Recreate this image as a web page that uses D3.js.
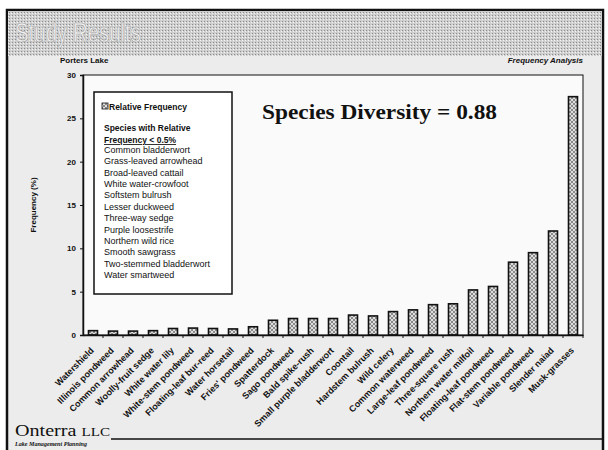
<!DOCTYPE html>
<html><head><meta charset="utf-8">
<script src="https://cdn.jsdelivr.net/npm/d3@7"></script>
<style>body{margin:0;background:#fff}svg{display:block}</style>
</head><body>
<script>
const categories = ["Watershield","Illinois pondweed","Common arrowhead","Woolly-fruit sedge","White water lily","White-stem pondweed","Floating-leaf bur-reed","Water horsetail","Fries' pondweed","Spatterdock","Sago pondweed","Bald spike-rush","Small purple bladderwort","Coontail","Hardstem bulrush","Wild celery","Common waterweed","Large-leaf pondweed","Three-square rush","Northern water milfoil","Floating-leaf pondweed","Flat-stem pondweed","Variable pondweed","Slender naiad","Musk-grasses"];
const relativeFrequency = [0.5,0.45,0.45,0.5,0.75,0.8,0.75,0.7,0.95,1.7,1.9,1.9,1.9,2.3,2.2,2.7,2.9,3.5,3.6,5.2,5.6,8.4,9.5,12.0,27.5];
const yTicks = [0,5,10,15,20,25,30];
const rareSpecies = ["Common bladderwort","Grass-leaved arrowhead","Broad-leaved cattail","White water-crowfoot","Softstem bulrush","Lesser duckweed","Three-way sedge","Purple loosestrife","Northern wild rice","Smooth sawgrass","Two-stemmed bladderwort","Water smartweed"];

const W = 608, H = 450;
const svg = d3.select("body").append("svg").attr("width", W).attr("height", H);
const defs = svg.append("defs");
const pat = defs.append("pattern").attr("id","hatch").attr("patternUnits","userSpaceOnUse").attr("width",4).attr("height",4);
pat.append("rect").attr("width",4).attr("height",4).attr("fill","#8a8a8a");
pat.append("path").attr("d","M0,0 L2,2 L4,0 M0,4 L2,2 L4,4").attr("stroke","#e8e8e8").attr("stroke-width",0.9).attr("fill","none");
const stip = defs.append("pattern").attr("id","stip").attr("patternUnits","userSpaceOnUse").attr("width",3).attr("height",3);
stip.append("rect").attr("width",3).attr("height",3).attr("fill","#cfcfcf");
stip.append("rect").attr("x",0).attr("y",0).attr("width",1).attr("height",1).attr("fill","#8c8c8c");
stip.append("rect").attr("x",2).attr("y",1).attr("width",1).attr("height",1).attr("fill","#f4f4f4");

// slide background
svg.append("rect").attr("x",0).attr("y",0).attr("width",W).attr("height",H).attr("fill","#ffffff");
svg.append("rect").attr("x",7).attr("y",10).attr("width",596).attr("height",445).attr("fill","#ececec").attr("stroke","#111").attr("stroke-width",2.5);
svg.append("rect").attr("x",8).attr("y",11).attr("width",594).attr("height",45).attr("fill","url(#stip)");

// title
svg.append("text").attr("x",15).attr("y",42).attr("font-family","Liberation Sans Narrow, Liberation Sans, Arial").attr("font-size",27)
  .attr("textLength",126).attr("lengthAdjust","spacingAndGlyphs")
  .attr("fill","#f2f2f2").attr("stroke","#9a9a9a").attr("stroke-width",0.6).text("Study Results");

svg.append("text").attr("x",60).attr("y",63).attr("font-family","Liberation Sans, Arial").attr("font-weight","bold").attr("font-size",8).attr("fill","#111").text("Porters Lake");
svg.append("text").attr("x",583).attr("y",63).attr("text-anchor","end").attr("font-family","Liberation Sans, Arial").attr("font-weight","bold").attr("font-style","italic").attr("font-size",8).attr("fill","#111").text("Frequency Analysis");

const m = {l:83, r:583, t:75, b:335};
svg.append("rect").attr("x",m.l).attr("y",m.t).attr("width",m.r-m.l).attr("height",m.b-m.t).attr("fill","#fafafa");

const x = d3.scaleBand().domain(categories).range([m.l, m.r]).paddingInner(0.55).paddingOuter(0.275);
const y = d3.scaleLinear().domain([0,30]).range([m.b, m.t]);

// bars
svg.append("g").selectAll("rect").data(categories).join("rect")
  .attr("x", d => x(d)).attr("width", x.bandwidth())
  .attr("y", (d,i) => y(relativeFrequency[i])).attr("height", (d,i) => y(0)-y(relativeFrequency[i]))
  .attr("fill","url(#hatch)").attr("stroke","#111").attr("stroke-width",1.6);

// plot frame
svg.append("rect").attr("x",m.l).attr("y",m.t).attr("width",m.r-m.l).attr("height",m.b-m.t).attr("fill","none").attr("stroke","#111").attr("stroke-width",1);

// y axis
const ya = svg.append("g").attr("transform",`translate(${m.l},0)`).call(d3.axisLeft(y).tickValues(yTicks).tickSize(3).tickPadding(4));
ya.select(".domain").attr("stroke","#111").attr("stroke-width",1.5);
ya.selectAll("text").attr("font-family","Liberation Sans, Arial").attr("font-weight","bold").attr("font-size",8).attr("fill","#111");
ya.selectAll("line").attr("stroke","#111");

// x axis ticks at band boundaries
const step = x.step();
const xa = svg.append("g").attr("transform",`translate(0,${m.b})`).call(d3.axisBottom(x).tickSize(0).tickFormat(""));
xa.select(".domain").attr("stroke","#111").attr("stroke-width",1.5);
svg.append("g").selectAll("line").data(categories).join("line")
  .attr("x1", d => x(d)+x.bandwidth()/2+step/2).attr("x2", d => x(d)+x.bandwidth()/2+step/2)
  .attr("y1", m.b).attr("y2", m.b+3).attr("stroke","#111");

// x labels
svg.append("g").selectAll("text").data(categories).join("text")
  .attr("transform", d => `translate(${x(d)+x.bandwidth()/2+1.5},${m.b+16}) rotate(-45)`)
  .attr("text-anchor","end").attr("font-family","Liberation Sans, Arial").attr("font-weight","bold").attr("font-size",9).attr("fill","#111")
  .text(d => d);

// y label
svg.append("text").attr("transform","translate(36,205) rotate(-90)").attr("text-anchor","middle")
  .attr("font-family","Liberation Sans, Arial").attr("font-weight","bold").attr("font-size",8).attr("fill","#111").text("Frequency (%)");

// legend box
const lg = svg.append("g");
lg.append("rect").attr("x",94).attr("y",92).attr("width",138).attr("height",202).attr("fill","#fff").attr("stroke","#111").attr("stroke-width",1.5);
lg.append("rect").attr("x",102).attr("y",103).attr("width",6).attr("height",6).attr("fill","url(#hatch)").attr("stroke","#111").attr("stroke-width",0.8);
const tf = "Liberation Sans, Arial";
lg.append("text").attr("x",109).attr("y",110).attr("font-family",tf).attr("font-weight","bold").attr("font-size",8.5).attr("fill","#111").text("Relative Frequency");
lg.append("text").attr("x",104).attr("y",131).attr("font-family",tf).attr("font-weight","bold").attr("font-size",8.5).attr("fill","#111").text("Species with Relative");
lg.append("text").attr("x",104).attr("y",143).attr("font-family",tf).attr("font-weight","bold").attr("font-size",8.5).attr("fill","#111").attr("text-decoration","underline").text("Frequency < 0.5%");
lg.append("g").selectAll("text").data(rareSpecies).join("text")
  .attr("x",104).attr("y",(d,i)=>153+i*11.36).attr("font-family",tf).attr("font-size",9).attr("fill","#111").text(d=>d);

// diversity
svg.append("text").attr("x",262).attr("y",119).attr("font-family","Liberation Serif, Times New Roman, serif").attr("font-weight","bold").attr("font-size",21)
  .attr("textLength",235).attr("lengthAdjust","spacingAndGlyphs").attr("fill","#111").text("Species Diversity = 0.88");

// footer
const ft = svg.append("text").attr("x",15).attr("y",436).attr("font-family","Liberation Serif, serif").attr("fill","#111")
  .attr("textLength",95).attr("lengthAdjust","spacingAndGlyphs");
ft.append("tspan").attr("font-size",16).text("Onterra ");
ft.append("tspan").attr("font-size",12).text("LLC");
svg.append("text").attr("x",15).attr("y",446).attr("font-family","Liberation Serif, serif").attr("font-style","italic").attr("font-weight","bold").attr("font-size",5.5)
  .attr("textLength",72).attr("lengthAdjust","spacingAndGlyphs").attr("fill","#111").text("Lake Management Planning");
svg.append("line").attr("x1",111).attr("x2",602).attr("y1",439).attr("y2",439).attr("stroke","#111").attr("stroke-width",1.5);
</script>
</body></html>
